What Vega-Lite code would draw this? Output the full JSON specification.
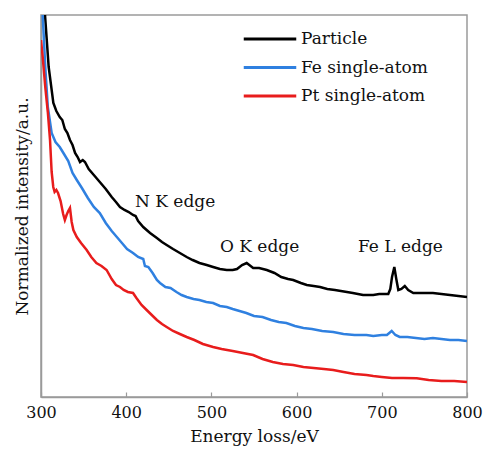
{
  "$schema": "https://vega.github.io/schema/vega-lite/v6.json",
  "autosize": "none",
  "padding": {"left": 41, "top": 15, "right": 16, "bottom": 53},
  "width": 426,
  "height": 382,
  "background": "white",
  "config": {
    "view": {"stroke": "#9a9a9a", "strokeWidth": 1.5},
    "font": "DejaVu Serif"
  },
  "datasets": {
    "spectra": [
      {"e": 300, "v": 520, "s": "Particle"},
      {"e": 304.7, "v": 382, "s": "Particle"},
      {"e": 309, "v": 330, "s": "Particle"},
      {"e": 314.5, "v": 294, "s": "Particle"},
      {"e": 318, "v": 286, "s": "Particle"},
      {"e": 322, "v": 280, "s": "Particle"},
      {"e": 325, "v": 277, "s": "Particle"},
      {"e": 328, "v": 268, "s": "Particle"},
      {"e": 331, "v": 264, "s": "Particle"},
      {"e": 334, "v": 257, "s": "Particle"},
      {"e": 337, "v": 252, "s": "Particle"},
      {"e": 340, "v": 244, "s": "Particle"},
      {"e": 343, "v": 240, "s": "Particle"},
      {"e": 345.8, "v": 235, "s": "Particle"},
      {"e": 349, "v": 237, "s": "Particle"},
      {"e": 351.6, "v": 235, "s": "Particle"},
      {"e": 356, "v": 228, "s": "Particle"},
      {"e": 362, "v": 222, "s": "Particle"},
      {"e": 365, "v": 219, "s": "Particle"},
      {"e": 369, "v": 215, "s": "Particle"},
      {"e": 376, "v": 208, "s": "Particle"},
      {"e": 383, "v": 200, "s": "Particle"},
      {"e": 388, "v": 195, "s": "Particle"},
      {"e": 392.7, "v": 190, "s": "Particle"},
      {"e": 398, "v": 187, "s": "Particle"},
      {"e": 403, "v": 185, "s": "Particle"},
      {"e": 408, "v": 182, "s": "Particle"},
      {"e": 411, "v": 181, "s": "Particle"},
      {"e": 414, "v": 176, "s": "Particle"},
      {"e": 420, "v": 170, "s": "Particle"},
      {"e": 428, "v": 164, "s": "Particle"},
      {"e": 436, "v": 159, "s": "Particle"},
      {"e": 442, "v": 155, "s": "Particle"},
      {"e": 447.5, "v": 152, "s": "Particle"},
      {"e": 455, "v": 148, "s": "Particle"},
      {"e": 463, "v": 144, "s": "Particle"},
      {"e": 471, "v": 140, "s": "Particle"},
      {"e": 478, "v": 137, "s": "Particle"},
      {"e": 486, "v": 134, "s": "Particle"},
      {"e": 494.5, "v": 132, "s": "Particle"},
      {"e": 502, "v": 130, "s": "Particle"},
      {"e": 510, "v": 128, "s": "Particle"},
      {"e": 518, "v": 127, "s": "Particle"},
      {"e": 525, "v": 127, "s": "Particle"},
      {"e": 530, "v": 128, "s": "Particle"},
      {"e": 536, "v": 132, "s": "Particle"},
      {"e": 541.4, "v": 134, "s": "Particle"},
      {"e": 546, "v": 131, "s": "Particle"},
      {"e": 549, "v": 129, "s": "Particle"},
      {"e": 556, "v": 129, "s": "Particle"},
      {"e": 565, "v": 127, "s": "Particle"},
      {"e": 574, "v": 124, "s": "Particle"},
      {"e": 582, "v": 120, "s": "Particle"},
      {"e": 590, "v": 118, "s": "Particle"},
      {"e": 596, "v": 117, "s": "Particle"},
      {"e": 605, "v": 114, "s": "Particle"},
      {"e": 612, "v": 112, "s": "Particle"},
      {"e": 620, "v": 111, "s": "Particle"},
      {"e": 627.5, "v": 110, "s": "Particle"},
      {"e": 636, "v": 108, "s": "Particle"},
      {"e": 645, "v": 107, "s": "Particle"},
      {"e": 652, "v": 106, "s": "Particle"},
      {"e": 659, "v": 105, "s": "Particle"},
      {"e": 666, "v": 104, "s": "Particle"},
      {"e": 672, "v": 103, "s": "Particle"},
      {"e": 678, "v": 102, "s": "Particle"},
      {"e": 682, "v": 102, "s": "Particle"},
      {"e": 690, "v": 102, "s": "Particle"},
      {"e": 697, "v": 103, "s": "Particle"},
      {"e": 703, "v": 103, "s": "Particle"},
      {"e": 707.6, "v": 103, "s": "Particle"},
      {"e": 710, "v": 108, "s": "Particle"},
      {"e": 712, "v": 120, "s": "Particle"},
      {"e": 714.7, "v": 130, "s": "Particle"},
      {"e": 717, "v": 118, "s": "Particle"},
      {"e": 719.4, "v": 107, "s": "Particle"},
      {"e": 723, "v": 108, "s": "Particle"},
      {"e": 727, "v": 111, "s": "Particle"},
      {"e": 731, "v": 107, "s": "Particle"},
      {"e": 737, "v": 104, "s": "Particle"},
      {"e": 745, "v": 104, "s": "Particle"},
      {"e": 752, "v": 104, "s": "Particle"},
      {"e": 760, "v": 104, "s": "Particle"},
      {"e": 770, "v": 103, "s": "Particle"},
      {"e": 780, "v": 102, "s": "Particle"},
      {"e": 790, "v": 101, "s": "Particle"},
      {"e": 800, "v": 100, "s": "Particle"},

      {"e": 300, "v": 440, "s": "Fe single-atom"},
      {"e": 302, "v": 382, "s": "Fe single-atom"},
      {"e": 305, "v": 330, "s": "Fe single-atom"},
      {"e": 308, "v": 290, "s": "Fe single-atom"},
      {"e": 312.5, "v": 264, "s": "Fe single-atom"},
      {"e": 317, "v": 255, "s": "Fe single-atom"},
      {"e": 322, "v": 250, "s": "Fe single-atom"},
      {"e": 327, "v": 243, "s": "Fe single-atom"},
      {"e": 332, "v": 236, "s": "Fe single-atom"},
      {"e": 337, "v": 224, "s": "Fe single-atom"},
      {"e": 342, "v": 217, "s": "Fe single-atom"},
      {"e": 348, "v": 209, "s": "Fe single-atom"},
      {"e": 355, "v": 199, "s": "Fe single-atom"},
      {"e": 362, "v": 190, "s": "Fe single-atom"},
      {"e": 369, "v": 184, "s": "Fe single-atom"},
      {"e": 376, "v": 174, "s": "Fe single-atom"},
      {"e": 383, "v": 166, "s": "Fe single-atom"},
      {"e": 389, "v": 160, "s": "Fe single-atom"},
      {"e": 395, "v": 154, "s": "Fe single-atom"},
      {"e": 401, "v": 148, "s": "Fe single-atom"},
      {"e": 408, "v": 144, "s": "Fe single-atom"},
      {"e": 414, "v": 140, "s": "Fe single-atom"},
      {"e": 420, "v": 138, "s": "Fe single-atom"},
      {"e": 422, "v": 131, "s": "Fe single-atom"},
      {"e": 426, "v": 130, "s": "Fe single-atom"},
      {"e": 431, "v": 124, "s": "Fe single-atom"},
      {"e": 436, "v": 117, "s": "Fe single-atom"},
      {"e": 439.7, "v": 114, "s": "Fe single-atom"},
      {"e": 446, "v": 110, "s": "Fe single-atom"},
      {"e": 452, "v": 109, "s": "Fe single-atom"},
      {"e": 459, "v": 105, "s": "Fe single-atom"},
      {"e": 465, "v": 102, "s": "Fe single-atom"},
      {"e": 471, "v": 100, "s": "Fe single-atom"},
      {"e": 479, "v": 98, "s": "Fe single-atom"},
      {"e": 486, "v": 97, "s": "Fe single-atom"},
      {"e": 494, "v": 95, "s": "Fe single-atom"},
      {"e": 502, "v": 94, "s": "Fe single-atom"},
      {"e": 510, "v": 91, "s": "Fe single-atom"},
      {"e": 518, "v": 90, "s": "Fe single-atom"},
      {"e": 525, "v": 88, "s": "Fe single-atom"},
      {"e": 533, "v": 86, "s": "Fe single-atom"},
      {"e": 541, "v": 84, "s": "Fe single-atom"},
      {"e": 550, "v": 81, "s": "Fe single-atom"},
      {"e": 560, "v": 80, "s": "Fe single-atom"},
      {"e": 570, "v": 77, "s": "Fe single-atom"},
      {"e": 579, "v": 75, "s": "Fe single-atom"},
      {"e": 588, "v": 74, "s": "Fe single-atom"},
      {"e": 598, "v": 71, "s": "Fe single-atom"},
      {"e": 608, "v": 69, "s": "Fe single-atom"},
      {"e": 618, "v": 68, "s": "Fe single-atom"},
      {"e": 630, "v": 66, "s": "Fe single-atom"},
      {"e": 643, "v": 65, "s": "Fe single-atom"},
      {"e": 655, "v": 63, "s": "Fe single-atom"},
      {"e": 668, "v": 62, "s": "Fe single-atom"},
      {"e": 682, "v": 62, "s": "Fe single-atom"},
      {"e": 690, "v": 61, "s": "Fe single-atom"},
      {"e": 700, "v": 62, "s": "Fe single-atom"},
      {"e": 706, "v": 62, "s": "Fe single-atom"},
      {"e": 711.6, "v": 66, "s": "Fe single-atom"},
      {"e": 716, "v": 62, "s": "Fe single-atom"},
      {"e": 721, "v": 60, "s": "Fe single-atom"},
      {"e": 730, "v": 60, "s": "Fe single-atom"},
      {"e": 740, "v": 59, "s": "Fe single-atom"},
      {"e": 750, "v": 58, "s": "Fe single-atom"},
      {"e": 760, "v": 59, "s": "Fe single-atom"},
      {"e": 770, "v": 58, "s": "Fe single-atom"},
      {"e": 780, "v": 57, "s": "Fe single-atom"},
      {"e": 790, "v": 57, "s": "Fe single-atom"},
      {"e": 800, "v": 56, "s": "Fe single-atom"},

      {"e": 300, "v": 357, "s": "Pt single-atom"},
      {"e": 302, "v": 340, "s": "Pt single-atom"},
      {"e": 305, "v": 310, "s": "Pt single-atom"},
      {"e": 308, "v": 285, "s": "Pt single-atom"},
      {"e": 310.6, "v": 257, "s": "Pt single-atom"},
      {"e": 312.5, "v": 225, "s": "Pt single-atom"},
      {"e": 314.4, "v": 210, "s": "Pt single-atom"},
      {"e": 316, "v": 205, "s": "Pt single-atom"},
      {"e": 318, "v": 207, "s": "Pt single-atom"},
      {"e": 320, "v": 204, "s": "Pt single-atom"},
      {"e": 323, "v": 196, "s": "Pt single-atom"},
      {"e": 326, "v": 183, "s": "Pt single-atom"},
      {"e": 328, "v": 177, "s": "Pt single-atom"},
      {"e": 330, "v": 182, "s": "Pt single-atom"},
      {"e": 332, "v": 186, "s": "Pt single-atom"},
      {"e": 334, "v": 189, "s": "Pt single-atom"},
      {"e": 336, "v": 175, "s": "Pt single-atom"},
      {"e": 338, "v": 167, "s": "Pt single-atom"},
      {"e": 342, "v": 160, "s": "Pt single-atom"},
      {"e": 347, "v": 154, "s": "Pt single-atom"},
      {"e": 353.6, "v": 147, "s": "Pt single-atom"},
      {"e": 359, "v": 140, "s": "Pt single-atom"},
      {"e": 365, "v": 134, "s": "Pt single-atom"},
      {"e": 371, "v": 131, "s": "Pt single-atom"},
      {"e": 377, "v": 127, "s": "Pt single-atom"},
      {"e": 383, "v": 118, "s": "Pt single-atom"},
      {"e": 388, "v": 112, "s": "Pt single-atom"},
      {"e": 392.7, "v": 110, "s": "Pt single-atom"},
      {"e": 397, "v": 107, "s": "Pt single-atom"},
      {"e": 402, "v": 105, "s": "Pt single-atom"},
      {"e": 408, "v": 104, "s": "Pt single-atom"},
      {"e": 412, "v": 99, "s": "Pt single-atom"},
      {"e": 418, "v": 92, "s": "Pt single-atom"},
      {"e": 424, "v": 87, "s": "Pt single-atom"},
      {"e": 430, "v": 82, "s": "Pt single-atom"},
      {"e": 436, "v": 77, "s": "Pt single-atom"},
      {"e": 442, "v": 73, "s": "Pt single-atom"},
      {"e": 447.5, "v": 70, "s": "Pt single-atom"},
      {"e": 455, "v": 66, "s": "Pt single-atom"},
      {"e": 463, "v": 63, "s": "Pt single-atom"},
      {"e": 471, "v": 60, "s": "Pt single-atom"},
      {"e": 480, "v": 57, "s": "Pt single-atom"},
      {"e": 490, "v": 53, "s": "Pt single-atom"},
      {"e": 502, "v": 50, "s": "Pt single-atom"},
      {"e": 512, "v": 48, "s": "Pt single-atom"},
      {"e": 525, "v": 46, "s": "Pt single-atom"},
      {"e": 537, "v": 44, "s": "Pt single-atom"},
      {"e": 549, "v": 42, "s": "Pt single-atom"},
      {"e": 560, "v": 38, "s": "Pt single-atom"},
      {"e": 572, "v": 35, "s": "Pt single-atom"},
      {"e": 584, "v": 33, "s": "Pt single-atom"},
      {"e": 596, "v": 32, "s": "Pt single-atom"},
      {"e": 608, "v": 30, "s": "Pt single-atom"},
      {"e": 620, "v": 29, "s": "Pt single-atom"},
      {"e": 632, "v": 28, "s": "Pt single-atom"},
      {"e": 643, "v": 27, "s": "Pt single-atom"},
      {"e": 655, "v": 25, "s": "Pt single-atom"},
      {"e": 668, "v": 23, "s": "Pt single-atom"},
      {"e": 682, "v": 22, "s": "Pt single-atom"},
      {"e": 690, "v": 21, "s": "Pt single-atom"},
      {"e": 700, "v": 20, "s": "Pt single-atom"},
      {"e": 712, "v": 19, "s": "Pt single-atom"},
      {"e": 725, "v": 19, "s": "Pt single-atom"},
      {"e": 741, "v": 18.7, "s": "Pt single-atom"},
      {"e": 755, "v": 17, "s": "Pt single-atom"},
      {"e": 770, "v": 16, "s": "Pt single-atom"},
      {"e": 785, "v": 16, "s": "Pt single-atom"},
      {"e": 800, "v": 15, "s": "Pt single-atom"}
    ],
    "labels": [
      {"e": 410.3, "v": 195, "t": "N K edge"},
      {"e": 510, "v": 150, "t": "O K edge"},
      {"e": 672, "v": 150, "t": "Fe L edge"}
    ]
  },
  "layer": [
    {
      "data": {"name": "spectra"},
      "mark": {"type": "line", "strokeWidth": 2.5, "clip": true, "interpolate": "linear"},
      "encoding": {
        "x": {
          "field": "e", "type": "quantitative",
          "scale": {"domain": [300, 800], "nice": false, "zero": false},
          "axis": {
            "title": "Energy loss/eV", "values": [300, 400, 500, 600, 700, 800],
            "grid": false, "domainColor": "#9a9a9a", "domainWidth": 1.5,
            "tickColor": "#9a9a9a", "tickSize": -5, "tickWidth": 1.2,
            "labelFont": "DejaVu Serif", "labelFontSize": 16, "labelColor": "#111",
            "labelPadding": 12, "labelFlush": false,
            "titleFont": "DejaVu Serif", "titleFontSize": 17, "titleFontWeight": "normal",
            "titleColor": "#111", "titlePadding": 8
          }
        },
        "y": {
          "field": "v", "type": "quantitative",
          "scale": {"domain": [0, 382], "nice": false, "zero": false},
          "axis": {
            "title": "Normalized intensity/a.u.", "labels": false, "ticks": false, "grid": false,
            "domainColor": "#9a9a9a", "domainWidth": 1.5,
            "titleFont": "DejaVu Serif", "titleFontSize": 17, "titleFontWeight": "normal",
            "titleColor": "#111", "titlePadding": 10
          }
        },
        "color": {
          "field": "s", "type": "nominal",
          "scale": {
            "domain": ["Particle", "Fe single-atom", "Pt single-atom"],
            "range": ["#000000", "#2f80e0", "#e81c1c"]
          },
          "legend": {
            "title": null, "orient": "none", "legendX": 217, "legendY": 12,
            "symbolType": "M-2.5,0H2.5", "symbolSize": 441, "symbolStrokeWidth": 3,
            "labelFont": "DejaVu Serif", "labelFontSize": 17, "labelColor": "#111",
            "labelOffset": 19, "rowPadding": 8.5
          }
        }
      }
    },
    {
      "data": {"name": "labels"},
      "mark": {"type": "text", "align": "left", "baseline": "middle", "font": "DejaVu Serif", "fontSize": 17, "color": "#111"},
      "encoding": {
        "x": {"field": "e", "type": "quantitative"},
        "y": {"field": "v", "type": "quantitative"},
        "text": {"field": "t", "type": "nominal"}
      }
    }
  ]
}
